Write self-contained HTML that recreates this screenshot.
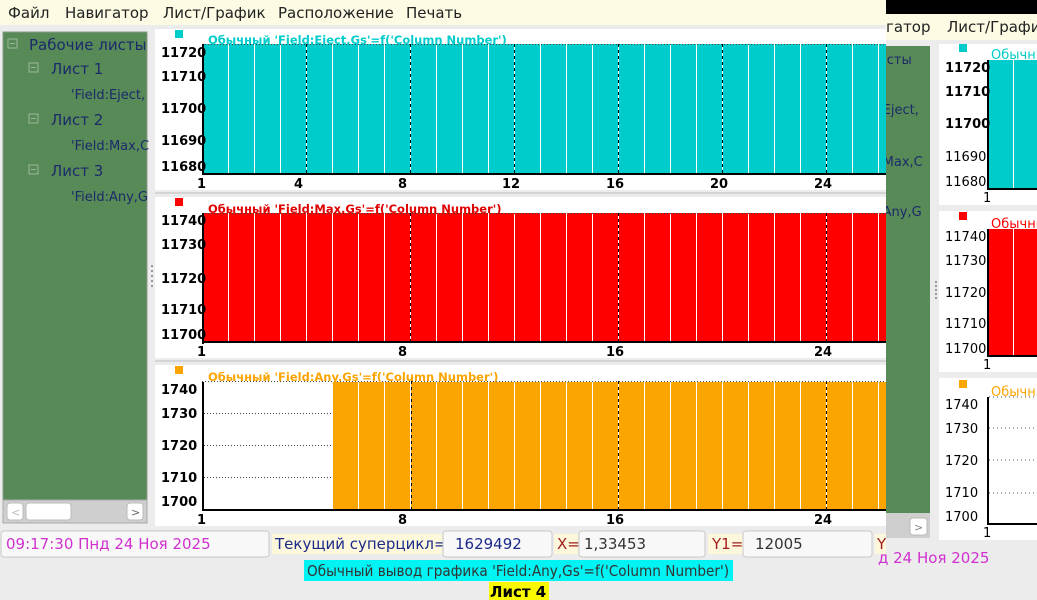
<!DOCTYPE html>
<html><head><meta charset="utf-8"><style>
html,body{margin:0;padding:0;width:1037px;height:600px;overflow:hidden;background:#ececec}
svg{display:block}
text{font-family:"DejaVu Sans","Liberation Sans",sans-serif}
.b{font-weight:bold;font-size:13px;fill:#000}
.n{font-size:13px;fill:#000}
</style></head><body>
<svg width="1037" height="600" viewBox="0 0 1037 600" xmlns="http://www.w3.org/2000/svg">
<defs>
<pattern id="pc" x="202" y="0" width="26" height="10" patternUnits="userSpaceOnUse"><rect width="26" height="10" fill="#00cccc"/><rect width="1" height="10" fill="#fff"/></pattern>
<pattern id="pr" x="202" y="0" width="26" height="10" patternUnits="userSpaceOnUse"><rect width="26" height="10" fill="#fe0000"/><rect width="1" height="10" fill="#fff"/></pattern>
<pattern id="po" x="202" y="0" width="26" height="10" patternUnits="userSpaceOnUse"><rect width="26" height="10" fill="#fca500"/><rect width="1" height="10" fill="#fff"/></pattern>
<pattern id="pc2" x="987" y="0" width="26" height="10" patternUnits="userSpaceOnUse"><rect width="26" height="10" fill="#00cccc"/><rect width="1" height="10" fill="#fff"/></pattern>
<pattern id="pr2" x="987" y="0" width="26" height="10" patternUnits="userSpaceOnUse"><rect width="26" height="10" fill="#fe0000"/><rect width="1" height="10" fill="#fff"/></pattern>
</defs>

<!-- RIGHT BACK WINDOW -->
<rect x="886" y="0" width="151" height="14" fill="#000"/>
<rect x="886" y="14" width="151" height="26" fill="#fdfbe3"/>
<text x="886" y="32" font-size="15" fill="#222">гатор</text>
<text x="947" y="32" font-size="15" fill="#222">Лист/Графи</text>
<rect x="886" y="46" width="44" height="492" fill="#578a57"/>
<text x="870" y="64" font-size="13" fill="#1c2a6a">листы</text>
<text x="870" y="114" font-size="13" fill="#1c2a6a">d:Eject,</text>
<text x="870" y="166" font-size="13" fill="#1c2a6a">d:Max,C</text>
<text x="870" y="216" font-size="13" fill="#1c2a6a">d:Any,G</text>
<rect x="886" y="513" width="44" height="25" fill="#cfcfcf"/>
<rect x="910" y="518" width="17" height="17" rx="3" fill="#fff" stroke="#bbb"/>
<text x="914" y="531" font-size="11" fill="#888">&gt;</text>
<circle cx="936" cy="282" r="0.8" fill="#333"/><circle cx="936" cy="286" r="0.8" fill="#333"/><circle cx="936" cy="290" r="0.8" fill="#333"/><circle cx="936" cy="294" r="0.8" fill="#333"/><circle cx="936" cy="298" r="0.8" fill="#333"/>
<rect x="939" y="44" width="98" height="161" fill="#fff"/>
<rect x="959" y="44" width="8" height="8" fill="#00cccc"/>
<text x="991" y="59" font-size="13" fill="#00cccc">Обычны</text>
<rect x="987" y="60" width="50" height="129" fill="url(#pc2)"/>
<line x1="988" y1="60" x2="988" y2="190" stroke="#000" stroke-width="2"/>
<line x1="987" y1="189" x2="1037" y2="189" stroke="#000" stroke-width="2"/>
<text x="945" y="72" class="b">11720</text><text x="945" y="96" class="b">11710</text><text x="945" y="128" class="b">11700</text>
<text x="945" y="161" class="n">11690</text><text x="945" y="186" class="n">11680</text>
<text x="983" y="202" class="n">1</text>
<rect x="939" y="211" width="98" height="161" fill="#fff"/>
<rect x="959" y="212" width="8" height="8" fill="#fe0000"/>
<text x="991" y="228" font-size="13" fill="#fe0000">Обычны</text>
<rect x="987" y="229" width="50" height="127" fill="url(#pr2)"/>
<line x1="988" y1="229" x2="988" y2="357" stroke="#000" stroke-width="2"/>
<line x1="987" y1="356" x2="1037" y2="356" stroke="#000" stroke-width="2"/>
<text x="945" y="241" class="n">11740</text><text x="945" y="265" class="n">11730</text><text x="945" y="297" class="n">11720</text><text x="945" y="328" class="n">11710</text><text x="945" y="353" class="n">11700</text>
<text x="983" y="369" class="n">1</text>
<rect x="939" y="378" width="98" height="162" fill="#fff"/>
<rect x="959" y="380" width="8" height="8" fill="#fca500"/>
<text x="991" y="396" font-size="13" fill="#fca500">Обычны</text>
<g stroke="#555" stroke-dasharray="1,3"><line x1="989" y1="397" x2="1037" y2="397"/><line x1="989" y1="428" x2="1037" y2="428"/><line x1="989" y1="460" x2="1037" y2="460"/><line x1="989" y1="493" x2="1037" y2="493"/></g>
<line x1="988" y1="397" x2="988" y2="525" stroke="#000" stroke-width="2"/>
<line x1="987" y1="524" x2="1037" y2="524" stroke="#000" stroke-width="2"/>
<text x="945" y="409" class="n">1740</text><text x="945" y="433" class="n">1730</text><text x="945" y="465" class="n">1720</text><text x="945" y="497" class="n">1710</text><text x="945" y="521" class="n">1700</text>
<text x="983" y="537" class="n">1</text>

<!-- MAIN WINDOW -->
<rect x="0" y="0" width="886" height="600" fill="#ececec"/>
<rect x="0" y="0" width="886" height="25" fill="#fdfbe3"/>
<g font-size="15" fill="#222">
<text x="8" y="18">Файл</text><text x="65" y="18">Навигатор</text><text x="163" y="18">Лист/График</text><text x="278" y="18">Расположение</text><text x="406" y="18">Печать</text>
</g>
<rect x="3" y="32" width="144" height="468" fill="#578a57" stroke="#8a9a8a"/>
<g font-size="15" fill="#1c2a6a">
<rect x="8" y="39" width="9" height="9" fill="none" stroke="#9cb89c"/><line x1="10" y1="43.5" x2="15" y2="43.5" stroke="#9cb89c"/>
<text x="29" y="50">Рабочие листы</text>
<rect x="29" y="63" width="9" height="9" fill="none" stroke="#9cb89c"/><line x1="31" y1="67.5" x2="36" y2="67.5" stroke="#9cb89c"/>
<text x="51" y="74">Лист 1</text>
<text x="71" y="99" font-size="13">'Field:Eject,</text>
<rect x="29" y="114" width="9" height="9" fill="none" stroke="#9cb89c"/><line x1="31" y1="118.5" x2="36" y2="118.5" stroke="#9cb89c"/>
<text x="51" y="125">Лист 2</text>
<text x="71" y="150" font-size="13">'Field:Max,C</text>
<rect x="29" y="165" width="9" height="9" fill="none" stroke="#9cb89c"/><line x1="31" y1="169.5" x2="36" y2="169.5" stroke="#9cb89c"/>
<text x="51" y="176">Лист 3</text>
<text x="71" y="201" font-size="13">'Field:Any,G</text>
</g>
<rect x="3" y="500" width="144" height="23" fill="#cfcfcf" stroke="#aaa"/>
<rect x="7" y="503" width="16" height="17" rx="3" fill="#fff" stroke="#bbb"/>
<rect x="26" y="503" width="45" height="17" rx="3" fill="#fff" stroke="#bbb"/>
<rect x="127" y="503" width="16" height="17" rx="3" fill="#fff" stroke="#bbb"/>
<text x="11" y="516" font-size="11" fill="#bbb">&lt;</text><text x="131" y="516" font-size="11" fill="#666">&gt;</text>
<circle cx="152" cy="266" r="0.8" fill="#333"/><circle cx="152" cy="271" r="0.8" fill="#333"/><circle cx="152" cy="276" r="0.8" fill="#333"/><circle cx="152" cy="281" r="0.8" fill="#333"/><circle cx="152" cy="286" r="0.8" fill="#333"/>

<!-- Chart 1 -->
<rect x="155" y="29" width="731" height="161" fill="#fff"/>
<line x1="155" y1="193" x2="886" y2="193" stroke="#bbb"/>
<rect x="175" y="30" width="8" height="8" fill="#00cccc"/>
<rect x="202" y="44" width="684" height="129" fill="url(#pc)"/>
<line x1="202" y1="44.5" x2="886" y2="44.5" stroke="#444" stroke-dasharray="1,2"/>
<text x="208" y="44" font-size="11.5" font-weight="bold" fill="#00cccc">Обычный  'Field:Eject.Gs'=f('Column Number')</text>
<g stroke="#000" stroke-dasharray="3,3"><line x1="306.5" y1="44" x2="306.5" y2="173"/><line x1="410.5" y1="44" x2="410.5" y2="173"/><line x1="514.5" y1="44" x2="514.5" y2="173"/><line x1="618.5" y1="44" x2="618.5" y2="173"/><line x1="722.5" y1="44" x2="722.5" y2="173"/><line x1="826.5" y1="44" x2="826.5" y2="173"/></g>
<line x1="203" y1="44" x2="203" y2="175" stroke="#000" stroke-width="2"/>
<line x1="202" y1="174" x2="886" y2="174" stroke="#000" stroke-width="2"/>
<g class="b"><text x="161" y="57" class="b">11720</text><text x="161" y="81" class="b">11710</text><text x="161" y="113" class="b">11700</text><text x="161" y="145" class="b">11690</text><text x="161" y="171" class="b">11680</text>
<text x="197" y="188" class="b">1</text><text x="294" y="188" class="b">4</text><text x="398" y="188" class="b">8</text><text x="502" y="188" class="b">12</text><text x="606" y="188" class="b">16</text><text x="710" y="188" class="b">20</text><text x="814" y="188" class="b">24</text></g>

<!-- Chart 2 -->
<rect x="155" y="197" width="731" height="161" fill="#fff"/>
<line x1="155" y1="361" x2="886" y2="361" stroke="#bbb"/>
<rect x="175" y="198" width="8" height="8" fill="#fe0000"/>
<rect x="202" y="213" width="684" height="129" fill="url(#pr)"/>
<line x1="202" y1="213.5" x2="886" y2="213.5" stroke="#444" stroke-dasharray="1,2"/>
<text x="208" y="213" font-size="11.5" font-weight="bold" fill="#e00000">Обычный  'Field:Max.Gs'=f('Column Number')</text>
<g stroke="#000" stroke-dasharray="3,3"><line x1="410.5" y1="213" x2="410.5" y2="342"/><line x1="618.5" y1="213" x2="618.5" y2="342"/><line x1="826.5" y1="213" x2="826.5" y2="342"/></g>
<line x1="203" y1="213" x2="203" y2="344" stroke="#000" stroke-width="2"/>
<line x1="202" y1="342" x2="886" y2="342" stroke="#000" stroke-width="2"/>
<text x="161" y="225" class="b">11740</text><text x="161" y="249" class="b">11730</text><text x="161" y="283" class="b">11720</text><text x="161" y="314" class="b">11710</text><text x="161" y="339" class="b">11700</text>
<text x="197" y="356" class="b">1</text><text x="398" y="356" class="b">8</text><text x="606" y="356" class="b">16</text><text x="814" y="356" class="b">24</text>

<!-- Chart 3 -->
<rect x="155" y="365" width="731" height="161" fill="#fff"/>
<rect x="175" y="366" width="8" height="8" fill="#fca500"/>
<line x1="202" y1="381.5" x2="886" y2="381.5" stroke="#444" stroke-dasharray="1,2"/>
<g stroke="#444" stroke-dasharray="1,2"><line x1="204" y1="413.5" x2="332" y2="413.5"/><line x1="204" y1="445.5" x2="332" y2="445.5"/><line x1="204" y1="477.5" x2="332" y2="477.5"/></g>
<rect x="333" y="382" width="553" height="127" fill="url(#po)"/>
<text x="208" y="381" font-size="11.5" font-weight="bold" fill="#fca500">Обычный  'Field:Any.Gs'=f('Column Number')</text>
<g stroke="#000" stroke-dasharray="3,3"><line x1="411.5" y1="381" x2="411.5" y2="509"/><line x1="618.5" y1="381" x2="618.5" y2="509"/><line x1="826.5" y1="381" x2="826.5" y2="509"/></g>
<line x1="203" y1="382" x2="203" y2="511" stroke="#000" stroke-width="2"/>
<line x1="202" y1="510" x2="886" y2="510" stroke="#000" stroke-width="2"/>
<text x="161" y="394" class="b">1740</text><text x="161" y="418" class="b">1730</text><text x="161" y="450" class="b">1720</text><text x="161" y="482" class="b">1710</text><text x="161" y="506" class="b">1700</text>
<text x="197" y="524" class="b">1</text><text x="398" y="524" class="b">8</text><text x="606" y="524" class="b">16</text><text x="814" y="524" class="b">24</text>

<!-- status bar -->
<rect x="1" y="531" width="268" height="26" rx="3" fill="#f8f8f8" stroke="#c8c8c8"/>
<text x="6" y="549" font-size="15" fill="#d030d0">09:17:30 Пнд 24 Ноя 2025</text>
<rect x="272" y="534" width="171" height="20" fill="#fdf8dc"/>
<text x="275" y="549" font-size="15" fill="#1c2a8a">Текущий суперцикл=</text>
<rect x="443" y="531" width="109" height="26" rx="3" fill="#f8f8f8" stroke="#c8c8c8"/>
<text x="455" y="549" font-size="15" fill="#1c2a8a">1629492</text>
<rect x="554" y="534" width="24" height="20" fill="#fdf8dc"/>
<text x="557" y="549" font-size="15" fill="#a02020">X=</text>
<rect x="579" y="531" width="126" height="26" rx="3" fill="#f8f8f8" stroke="#c8c8c8"/>
<text x="584" y="549" font-size="15" fill="#333">1,33453</text>
<rect x="708" y="534" width="35" height="20" fill="#fdf8dc"/>
<text x="712" y="549" font-size="15" fill="#a02020">Y1=</text>
<rect x="743" y="531" width="129" height="26" rx="3" fill="#f8f8f8" stroke="#c8c8c8"/>
<text x="755" y="549" font-size="15" fill="#333">12005</text>
<rect x="875" y="534" width="11" height="20" fill="#fdf8dc"/>
<text x="877" y="549" font-size="15" fill="#a02020">Y</text>
<text x="878" y="563" font-size="15" fill="#d030d0">д 24 Ноя 2025</text>
<rect x="304" y="560" width="429" height="21" fill="#00f4f4"/>
<text x="307" y="576" font-size="15" fill="#333" textLength="422" lengthAdjust="spacingAndGlyphs">Обычный вывод графика 'Field:Any,Gs'=f('Column Number')</text>
<rect x="489" y="582" width="60" height="18" fill="#f8f800"/>
<text x="490" y="597" font-size="15" font-weight="bold" fill="#000">Лист 4</text>
</svg>
</body></html>
